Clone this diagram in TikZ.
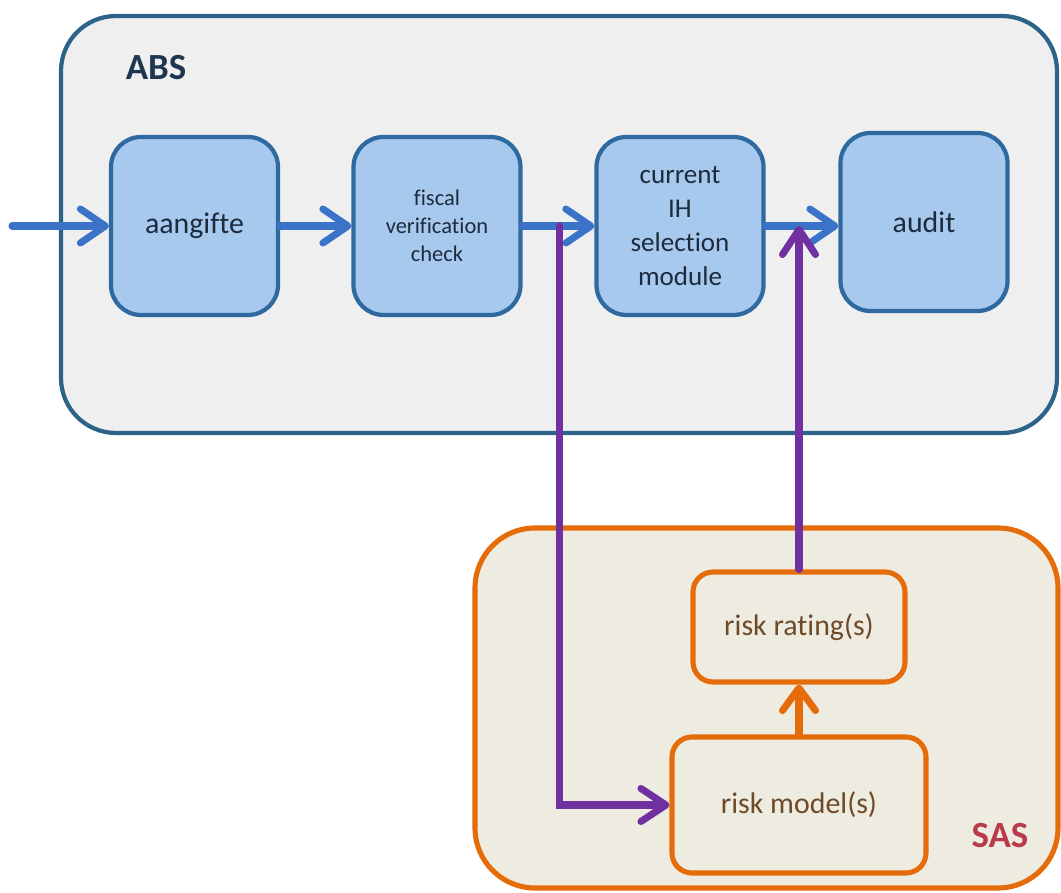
\documentclass[tikz,border=0pt]{standalone}
\usepackage{fontspec}
\setmainfont{Carlito}[Ligatures=CommonOff]
\usetikzlibrary{arrows.meta}

\definecolor{absline}{HTML}{2D6389}
\definecolor{absfill}{HTML}{EFEFEF}
\definecolor{absink}{HTML}{1F3650}
\definecolor{boxline}{HTML}{2E6A9F}
\definecolor{boxfill}{HTML}{A8C9EE}
\definecolor{boxink}{HTML}{1D2B3E}
\definecolor{flowblue}{HTML}{3A73C8}
\definecolor{flowpurple}{HTML}{7030A0}
\definecolor{sasline}{HTML}{E46C0A}
\definecolor{sasfill}{HTML}{EEECE1}
\definecolor{sasink}{HTML}{6E4A28}
\definecolor{saslabel}{HTML}{B83A4B}

\begin{document}
\begin{tikzpicture}[
    absstep/.style={draw=boxline, fill=boxfill, line width=2.4pt, rounded corners=0.6cm,
        minimum width=3.34cm, minimum height=3.56cm, align=center, text=boxink,
        font=\fontsize{17}{20}\selectfont},
    sasstep/.style={draw=sasline, fill=sasfill, line width=2.9pt, rounded corners=0.4cm,
        align=center, text=sasink, font=\fontsize{17}{20}\selectfont},
    bluearrow/.style={draw=flowblue, line width=4pt, line cap=round,
        -{Straight Barb[length=0.5cm, width=0.68cm, round]}},
    purplearrow/.style={draw=flowpurple, line width=4pt, line cap=round,
        -{Straight Barb[length=0.5cm, width=0.66cm, round]}},
    orangearrow/.style={draw=sasline, line width=4pt, line cap=round,
        -{Straight Barb[length=0.45cm, width=0.66cm, round]}}
]

    \useasboundingbox (0,0) rectangle (21.22,17.84);

    % ABS container

    \draw[draw=absline, fill=absfill, line width=2.4pt, rounded corners=1.1cm] (1.22, 9.18) rectangle (21.14, 17.52);

    \node[text=absink, font=\fontsize{21}{24}\selectfont\bfseries] (abslabel) at (3.12, 16.48) {ABS};

    

    % SAS container

    \draw[draw=sasline, fill=sasfill, line width=2.9pt, rounded corners=1.2cm] (9.50, 0.08) rectangle (21.16, 7.28);

    \node[text=saslabel, font=\fontsize{21}{24}\selectfont\bfseries] (saslabel) at (20.0, 1.12) {SAS};

    

    % Process steps in ABS

    \node[absstep] (aangifte) at (3.89, 13.32) {aangifte};

    \node[absstep, font=\fontsize{12.8}{16}\selectfont] (fiscal) at (8.74, 13.32) {fiscal\\verification\\check};

    \node[absstep, font=\fontsize{15.4}{19.3}\selectfont] (current) at (13.60, 13.32) {current\\IH\\selection\\module};

    \node[absstep] (audit) at (18.48, 13.40) {audit};

    

    % Steps in SAS

    \node[sasstep, minimum width=4.24cm, minimum height=2.2cm] (rating) at (15.98, 5.30) {risk rating(s)};

    \node[sasstep, minimum width=5.08cm, minimum height=2.72cm] (model) at (15.98, 1.74) {risk model(s)};

    

    % Flow through ABS

    \coordinate (input) at (0.24, 13.32);

    \coordinate (split) at ([xshift=0.74cm]fiscal.east);

    \draw[bluearrow] (input) -- (aangifte.west);

    \draw[bluearrow] (aangifte.east) -- (fiscal.west);

    \draw[bluearrow] (fiscal.east) -- (current.west);

    \draw[bluearrow] (current.east) -- (current.east -| audit.west);

    

    % Detour through SAS

    \draw[purplearrow] (split) |- (model.west);

    \draw[orangearrow] (model.north) -- (rating.south);

    \draw[purplearrow] (rating.north) -- (rating.north |- current.east);

\end{tikzpicture}
\end{document}
